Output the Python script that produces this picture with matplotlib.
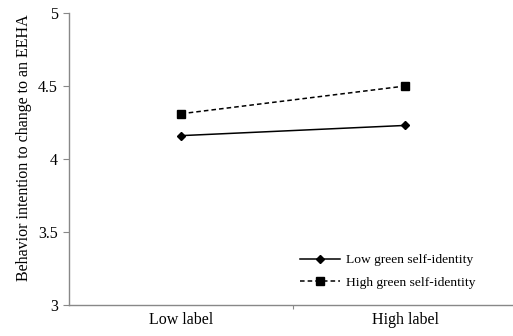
import matplotlib
matplotlib.use("Agg")
from matplotlib import pyplot as plt

categories = ["Low label", "High label"]
low_identity = [4.16, 4.23]
high_identity = [4.31, 4.50]
series_names = ["Low green self-identity", "High green self-identity"]
y_ticks = [3, 3.5, 4, 4.5, 5]
y_tick_labels = ["3", "3.5", "4", "4.5", "5"]

plt.rcParams["font.family"] = ["Liberation Serif", "DejaVu Serif"]

fig = plt.figure(figsize=(5.13, 3.36), dpi=100)
ax = fig.add_axes([69 / 513, 31 / 336, 1 - 69 / 513, 292 / 336])

x = [0.5, 1.5]
ax.plot(x, low_identity, color="black", linestyle="-", linewidth=1.1,
        marker="D", markersize=4.2, label=series_names[0])
ax.plot(x, high_identity, color="black", linestyle=(0, (3, 2)), linewidth=1.1,
        marker="s", markersize=5.2, label=series_names[1])

ax.set_xlim(0, 1.98)
ax.set_ylim(3, 5)
ax.set_xticks([1])
ax.set_xticklabels([])
ax.set_xticks(x, minor=True)
ax.set_xticklabels(categories, minor=True, fontsize=11.5)
ax.tick_params(axis="x", which="minor", length=0, pad=5)
ax.tick_params(axis="x", which="major", length=3, color="#888888")
ax.set_yticks(y_ticks)
ax.set_yticklabels(y_tick_labels, fontsize=11.5)
ax.tick_params(axis="y", length=4, color="#888888", pad=4)

for side in ["top", "right"]:
    ax.spines[side].set_visible(False)
for side in ["left", "bottom"]:
    ax.spines[side].set_color("#888888")
    ax.spines[side].set_linewidth(1.0)

ax.set_ylabel("Behavior intention to change to an EEHA", fontsize=11.5)
ax.yaxis.set_label_coords(-0.084, 0.54)

fig.legend(loc="center left", bbox_to_anchor=(300 / 513, (336 - 271.5) / 336),
           frameon=False, fontsize=9.7, handlelength=2.95, handletextpad=0.5,
           labelspacing=0.75, borderpad=0, borderaxespad=0)

fig.savefig("out.png", dpi=100)
